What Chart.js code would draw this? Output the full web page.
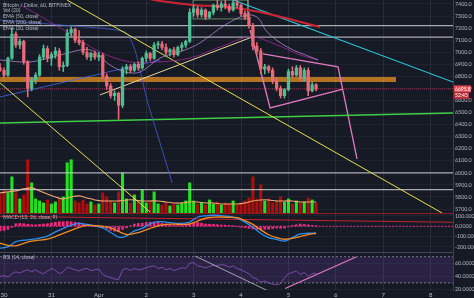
<!DOCTYPE html>
<html>
<head>
<meta charset="utf-8">
<title>BTCUSD 60 BITFINEX</title>
<script src="https://cdn.jsdelivr.net/npm/chart.js@4.4.1/dist/chart.umd.min.js"></script>
<style>
  html, body { margin: 0; padding: 0; background: #161a25; }
  #wrap { position: relative; width: 474px; height: 298px; overflow: hidden; background: #161a25; }
  .pane { position: absolute; left: 0; width: 474px; }
  #pricePane { top: 0; height: 213px; }
  #macdPane { top: 213px; height: 39px; }
  #rsiPane { top: 252px; height: 46px; }
</style>
</head>
<body>
<div id="wrap">
  <div class="pane" id="pricePane"><canvas id="priceChart"></canvas></div>
  <div class="pane" id="macdPane"><canvas id="macdChart"></canvas></div>
  <div class="pane" id="rsiPane"><canvas id="rsiChart"></canvas></div>
</div>
<script>
// time axis: hours from 30 Mar 00:00
const dayHours = [0, 24, 48, 72, 96, 120, 144, 168, 192, 216];
const dayLabels = ['30', '31', 'Apr', '2', '3', '4', '5', '6', '7', '8'];
const priceTicks = [7400, 7300, 7200, 7100, 7000, 6900, 6800, 6700, 6600, 6500, 6400, 6300, 6200, 6100, 6000, 5900, 5800, 5700];
const macdTicks = [100, 0, -100, -200];
const rsiTicks = [60, 40, 20];
const lastPrice = 6695.8;
const countdown = '52:45';

// candles (2h steps)
const hours = [-2, 0, 2, 4, 6, 8, 10, 12, 14, 16,
  18, 20, 22, 24, 26, 28, 30, 32, 34, 36,
  38, 40, 42, 44, 46, 48, 50, 52, 54, 56,
  58, 60, 62, 64, 66, 68, 70, 72, 74, 76,
  78, 80, 82, 84, 86, 88, 90, 92, 94, 96,
  98, 100, 102, 104, 106, 108, 110, 112, 114, 116,
  118, 120, 122, 124, 126, 128, 130, 132, 134, 136,
  138, 140, 142, 144, 146, 148, 150, 152, 154, 156,
  158];
const opens = [6870, 6850, 6810, 6950, 7150, 7060, 7090, 6920, 6700, 6770,
  6810, 6960, 7030, 6950, 6980, 7010, 6880, 6890, 7160, 7190,
  7100, 7080, 7000, 6960, 6990, 6960, 6975, 6800, 6720, 6640,
  6660, 6560, 6860, 6880, 6850, 6900, 6870, 6950, 6990, 6950,
  7060, 7070, 7040, 7000, 7020, 6980, 7040, 7060, 7090, 7330,
  7360, 7310, 7350, 7290, 7330, 7390, 7370, 7400, 7380, 7350,
  7410, 7390, 7320, 7290, 7220, 7050, 7010, 6860, 6880, 6850,
  6760, 6700, 6640, 6690, 6840, 6810, 6870, 6780, 6850, 6680,
  6730];
const highs = [6905, 6870, 6960, 7200, 7170, 7110, 7100, 6930, 6790, 6830,
  6980, 7060, 7050, 7000, 7040, 7030, 6920, 7190, 7210, 7200,
  7180, 7100, 7040, 7000, 7010, 7000, 6990, 6820, 6740, 6680,
  6670, 6880, 6900, 6900, 6910, 6920, 6960, 7010, 7000, 7080,
  7090, 7090, 7070, 7030, 7040, 7050, 7080, 7100, 7360, 7390,
  7380, 7370, 7360, 7340, 7400, 7430, 7420, 7440, 7400, 7430,
  7440, 7400, 7340, 7330, 7240, 7080, 7030, 6900, 6890, 6870,
  6790, 6720, 6700, 6860, 6880, 6890, 6890, 6870, 6870, 6750,
  6740];
const lows = [6840, 6790, 6800, 6940, 7040, 7030, 6900, 6630, 6680, 6740,
  6800, 6940, 6920, 6890, 6950, 6850, 6840, 6880, 7130, 7080,
  7060, 6980, 6940, 6930, 6940, 6930, 6780, 6690, 6620, 6600,
  6445, 6540, 6820, 6830, 6840, 6850, 6860, 6920, 6930, 6940,
  7030, 7020, 6980, 6970, 6960, 6970, 7010, 7040, 7080, 7300,
  7290, 7290, 7270, 7280, 7310, 7350, 7340, 7360, 7330, 7340,
  7370, 7300, 7270, 7200, 7020, 6980, 6820, 6820, 6830, 6740,
  6680, 6620, 6620, 6680, 6790, 6800, 6760, 6760, 6640, 6670,
  6680];
const closes = [6850, 6810, 6950, 7150, 7060, 7090, 6920, 6700, 6770, 6810,
  6960, 7030, 6950, 6980, 7010, 6880, 6890, 7160, 7190, 7100,
  7080, 7000, 6960, 6990, 6960, 6975, 6800, 6720, 6640, 6660,
  6560, 6860, 6880, 6850, 6900, 6870, 6950, 6990, 6950, 7060,
  7070, 7040, 7000, 7020, 6980, 7040, 7060, 7090, 7330, 7360,
  7310, 7350, 7290, 7330, 7390, 7370, 7400, 7380, 7350, 7410,
  7390, 7320, 7290, 7220, 7050, 7010, 6860, 6880, 6850, 6760,
  6700, 6640, 6690, 6840, 6810, 6870, 6780, 6850, 6680, 6730,
  6695.8];
const volumes = [450, 550, 500, 900, 500, 350, 450, 1325, 750, 350,
  300, 250, 325, 225, 275, 350, 400, 1250, 1325, 300,
  250, 325, 225, 275, 200, 225, 500, 400, 300, 250,
  525, 1000, 350, 250, 450, 300, 575, 250, 300, 525,
  225, 200, 250, 175, 225, 200, 250, 300, 750, 300,
  225, 250, 200, 325, 225, 275, 200, 250, 225, 300,
  200, 250, 300, 375, 900, 350, 700, 300, 350, 250,
  300, 400, 275, 350, 225, 300, 250, 275, 375, 325,
  250];
const macdHist = [-45, -40, -30, -10, 25, 28, 25, 20, 15, 14,
  18, 22, 25, 32, 40, 45, 45, 48, 45, 40,
  35, 22, 10, 5, 0, -5, -12, -25, -40, -48,
  -50, -30, -15, 5, 22, 28, 30, 38, 40, 40,
  38, 30, 22, 15, 10, 8, 9, 12, 18, 30,
  35, 30, 22, 20, 18, 15, 12, 10, 8, 2,
  -5, -10, -14, -20, -25, -30, -35, -30, -28, -22,
  -18, -20, -18, -5, 8, 15, 22, 18, 14, 8,
  3];
const rsiValues = [40, 41, 39, 44, 47, 45, 48, 50, 47, 50,
  46, 44, 48, 52, 49, 44, 47, 54, 52, 50,
  48, 51, 52, 49, 50, 51, 43, 40, 38, 36,
  35, 50, 52, 49, 52, 50, 51, 53, 55, 56,
  52, 54, 50, 52, 49, 51, 53, 52, 60, 61,
  56, 55, 53, 55, 57, 56, 58, 57, 54, 56,
  52, 50, 47, 44, 38, 36, 31, 33, 30, 28,
  27, 29, 38, 44, 46, 48, 43, 46, 40, 44,
  45];

// smoother series (4h steps)
const hours4 = [-2, 2, 6, 10, 14, 18, 22, 26, 30, 34, 38, 42, 46, 50, 54, 58, 62, 66, 70, 74,
  78, 82, 86, 90, 94, 98, 102, 106, 110, 114, 118, 122, 126, 130, 134, 138, 142, 146, 150, 154, 158];
const macdLine = [-213, -200, -150, -135, -128, -115, -95, -55, -20, 12, 28, 18, 5, -15, -60, -105, -95, -45, -20, 25,
  45, 40, 30, 28, 40, 90, 102, 107, 103, 95, 78, 40, -10, -70, -110, -128, -145, -110, -75, -68, -65];
const signalLine = [-165, -185, -190, -165, -145, -135, -125, -100, -70, -40, -10, 8, 5, -2, -15, -50, -80, -70, -50, -20,
  5, 18, 20, 19, 22, 50, 78, 88, 90, 86, 84, 55, 18, -35, -82, -110, -126, -118, -100, -82, -68];
const volumeMA = [500, 525, 550, 600, 625, 550, 475, 400, 350, 400, 425, 375, 325, 300, 300, 300, 325, 325, 300, 300,
  300, 275, 250, 250, 275, 275, 250, 250, 225, 225, 225, 250, 300, 325, 325, 300, 300, 300, 275, 275, 275];

// moving averages [hour, price]
const ema20 = [[-2, 6936], [13.2, 6919], [28.4, 6977], [43.5, 7019], [53.7, 6894], [61.3, 6836], [68.9, 6836], [79, 6952],
  [91.6, 7019], [99.2, 7077], [111.9, 7226], [123, 7309], [128.6, 7284], [133.2, 7168], [143.3, 7044], [156.5, 6952], [159, 6936]];
const ema50 = [[8.1, 7392], [14.7, 7334], [31.9, 7168], [48.6, 7002], [63.8, 6920], [79, 6920], [94.2, 6952], [109.4, 7044],
  [124.6, 7126], [137.2, 7068], [149.9, 6977], [159, 6936]];
const ema200 = [[73.9, 7441], [79, 7425], [95.7, 7392], [112.9, 7375], [129.6, 7334], [146.3, 7267], [160, 7209]];

// drawings [hour, price]
const yellowA = [[31.9, 7433], [221.8, 5667]];
const yellowB = [[-2, 6745], [73.9, 5676]];
const beigeLine = [[48.6, 6646], [125.6, 7126]];
const blueRise = [[-2, 6629], [79, 6936]];
const blueFall = [[-2, 7267], [28.4, 7226], [61.3, 7168], [66.3, 7019], [72.4, 6604], [79, 6248], [85.1, 5916]];
const tealLine = [[116, 7433], [227.3, 6753]];
const greenLine = [[-2, 6413], [227.3, 6496]];
const topBox = [[95.7, 7276], [95.7, 7432], [123.5, 7432], [123.5, 7276], [95.7, 7276]];
const pinkLower = [[124.6, 7184], [134.7, 6538], [171.6, 6695]];
const pinkUpper = [[131.1, 6986], [169.1, 6878], [178.7, 6115]];
const greyLevels = [7220, 7125, 6000, 5860];
const orangeZone = { from: -2, to: 198.5, top: 6795, bottom: 6753 };
const macdTrend = [[-2, 97], [227.3, 39]];
const rsiGreyTrend = [[96.7, 71], [133.2, 18.5]];
const rsiPinkTrend = [[142.3, 21.5], [178.2, 69.5]];
const rsiBands = [70, 30];

const X_MIN = -2.03, X_MAX = 227.3;
const GRID = 'rgba(62,68,90,0.42)';
const TXT = '#b6bac4';
const FONT = 'Lato';

const pts = arr => arr.map(p => ({ x: p[0], y: p[1] }));
function seg(points, color, width, extra) {
  return Object.assign({
    type: 'line', data: pts(points), borderColor: color, borderWidth: width,
    pointRadius: 0, fill: false, tension: 0, order: 5
  }, extra || {});
}
function level(value, color, width, extra) {
  return seg([[X_MIN, value], [X_MAX, value]], color, width, extra);
}

function xScale(showLabels) {
  return {
    type: 'linear', min: X_MIN, max: X_MAX, offset: false,
    afterBuildTicks: s => { s.ticks = dayHours.map(v => ({ value: v })); },
    afterFit: s => { s.height = showLabels ? 8 : 0; s.paddingLeft = 0; s.paddingRight = 0; },
    grid: { color: GRID, drawTicks: false, offset: false },
    border: { display: false },
    ticks: showLabels ? {
      color: TXT, font: { size: 6, family: FONT }, padding: 1, maxRotation: 0, autoSkip: false,
      callback: (v, i) => dayLabels[i]
    } : { display: false }
  };
}
function yScale(min, max, ticks, digits) {
  return {
    position: 'right', min: min, max: max,
    afterBuildTicks: s => { s.ticks = ticks.map(v => ({ value: v })); },
    afterFit: s => { s.width = 21; s.paddingTop = 0; s.paddingBottom = 0; },
    grid: { color: 'rgba(62,68,90,0.22)', drawTicks: false },
    border: { color: '#3a3f4f' },
    ticks: { color: TXT, font: { size: 5.3, family: FONT }, padding: 2, callback: v => v.toFixed(digits) }
  };
}

const overlay = {
  id: 'overlay',
  afterDraw(chart, args, o) {
    const ctx = chart.ctx, a = chart.chartArea;
    ctx.save();
    if (o.topLine) {
      ctx.strokeStyle = o.topLine; ctx.lineWidth = 1;
      ctx.beginPath(); ctx.moveTo(0, 0.5); ctx.lineTo(a.right, 0.5); ctx.stroke();
    }
    ctx.font = '5.2px ' + FONT;
    ctx.textBaseline = 'middle';
    ctx.fillStyle = 'rgba(205,208,218,0.85)';
    (o.texts || []).forEach((t, i) => ctx.fillText(t, 3, o.textTop + i * 5.8));
    if (o.priceBox) {
      const y = chart.scales.y.getPixelForValue(o.priceBox.value);
      ctx.fillStyle = '#e5484f';
      ctx.fillRect(a.right + 1, y - 3.5, 17, 7);
      ctx.fillStyle = '#b8323a';
      ctx.fillRect(a.right + 1, y + 3.5, 15, 6.5);
      ctx.fillStyle = '#ffffff';
      ctx.font = '5px ' + FONT;
      ctx.fillText(o.priceBox.value.toFixed(1), a.right + 2, y);
      ctx.fillText(o.priceBox.timer, a.right + 2, y + 6.8);
    }
    ctx.restore();
  }
};

const common = {
  responsive: true, maintainAspectRatio: false, animation: false, events: [],
  layout: { padding: 0, autoPadding: false }
};

// ---- price pane ----
const upCandle = '#4fbf93', downCandle = '#ec6b79';
const candleColors = closes.map((c, i) => c >= opens[i] ? upCandle : downCandle);
const volColors = closes.map((c, i) => c >= opens[i] ? '#22e41e' : '#b10d0d');

new Chart(document.getElementById('priceChart'), {
  type: 'bar',
  data: {
    datasets: [
      { type: 'bar', data: hours.map((h, i) => ({ x: h, y: [opens[i], closes[i]] })), backgroundColor: candleColors,
        barThickness: 2.6, grouped: false, order: 0 },
      { type: 'bar', data: hours.map((h, i) => ({ x: h, y: [lows[i], highs[i]] })), backgroundColor: candleColors,
        barThickness: 0.9, grouped: false, order: 1 },
      seg(ema20, 'rgba(186,140,214,0.75)', 1, { tension: 0.35, order: 3 }),
      seg(ema50, 'rgba(150,40,140,0.85)', 1, { tension: 0.35, order: 3 }),
      seg(ema200, '#cf2235', 2, { tension: 0.3, order: 3 }),
      seg(yellowA, '#e7e04a', 1),
      seg(yellowB, '#e7e04a', 1),
      seg(beigeLine, '#e8d79c', 1),
      seg(blueRise, 'rgba(64,100,220,0.85)', 1),
      seg(blueFall, 'rgba(64,90,200,0.85)', 1, { tension: 0.2 }),
      seg(tealLine, '#2cc3d4', 1.2),
      seg(greenLine, '#3fcf45', 1.3),
      seg(topBox, 'rgba(130,170,120,0.75)', 1),
      seg(pinkLower, '#e07ac0', 1.3),
      seg(pinkUpper, '#e07ac0', 1.3),
      level(lastPrice, 'rgba(236,84,100,0.55)', 1, { borderDash: [1, 1], order: 6 }),
      ...greyLevels.map(v => level(v, 'rgba(205,207,214,0.8)', 1.3, { order: 8 })),
      seg([[orangeZone.from, orangeZone.top], [orangeZone.to, orangeZone.top]], 'rgba(0,0,0,0)', 0, { order: 12 }),
      seg([[orangeZone.from, orangeZone.bottom], [orangeZone.to, orangeZone.bottom]], 'rgba(0,0,0,0)', 0,
        { fill: '-1', backgroundColor: 'rgba(240,150,35,0.72)', order: 12 }),
      { type: 'line', yAxisID: 'yv', data: pts(hours4.map((h, i) => [h, volumeMA[i]])), borderColor: '#f3a86f',
        borderWidth: 1.1, pointRadius: 0, tension: 0.3, order: 14 },
      { type: 'bar', yAxisID: 'yv', data: hours.map((h, i) => ({ x: h, y: volumes[i] })), backgroundColor: volColors,
        barThickness: 2.4, grouped: false, order: 15 }
    ]
  },
  options: Object.assign({}, common, {
    scales: {
      x: xScale(false),
      y: yScale(5667, 7433, priceTicks, 1),
      yv: { display: false, min: 0, max: 5300 }
    },
    plugins: {
      legend: { display: false }, tooltip: { enabled: false },
      overlay: {
        texts: ['Bitcoin / Dollar, 60, BITFINEX', 'Vol (20)', 'EMA (50, close)', 'EMA (200, close)', 'EMA (20, close)'],
        textTop: 5, priceBox: { value: lastPrice, timer: countdown }
      }
    }
  }),
  plugins: [overlay]
});

// ---- MACD pane ----
new Chart(document.getElementById('macdChart'), {
  type: 'bar',
  data: {
    datasets: [
      { type: 'line', data: pts(hours4.map((h, i) => [h, macdLine[i]])), borderColor: '#2b8ff0', borderWidth: 1.3,
        pointRadius: 0, tension: 0.3, order: 1 },
      { type: 'line', data: pts(hours4.map((h, i) => [h, signalLine[i]])), borderColor: '#f38a24', borderWidth: 1.3,
        pointRadius: 0, tension: 0.3, order: 0 },
      seg(macdTrend, '#c42330', 1, { order: 3 }),
      level(0, 'rgba(255,50,150,0.85)', 1, { borderDash: [2, 1.5], order: 4 }),
      { type: 'bar', data: hours.map((h, i) => ({ x: h, y: macdHist[i] })), backgroundColor: '#f5267f',
        barThickness: 2, grouped: false, order: 5 }
    ]
  },
  options: Object.assign({}, common, {
    scales: { x: xScale(false), y: yScale(-250, 129, macdTicks, 4) },
    plugins: {
      legend: { display: false }, tooltip: { enabled: false },
      overlay: { texts: ['MACD (12, 26, close, 9)'], textTop: 4.5, topLine: 'rgba(160,28,36,0.9)' }
    }
  }),
  plugins: [overlay]
});

// ---- RSI pane ----
new Chart(document.getElementById('rsiChart'), {
  type: 'line',
  data: {
    datasets: [
      level(rsiBands[0], 'rgba(190,190,205,0.55)', 1, { borderDash: [2, 2], order: 6 }),
      level(rsiBands[1], 'rgba(190,190,205,0.55)', 1,
        { borderDash: [2, 2], fill: '-1', backgroundColor: 'rgba(120,70,190,0.2)', order: 6 }),
      { type: 'line', data: pts(hours.map((h, i) => [h, rsiValues[i]])), borderColor: 'rgba(150,90,200,0.75)',
        borderWidth: 1, pointRadius: 0, tension: 0, order: 2 },
      seg(rsiGreyTrend, 'rgba(185,185,195,0.85)', 1, { order: 1 }),
      seg(rsiPinkTrend, '#e07ac0', 1.3, { order: 1 })
    ]
  },
  options: Object.assign({}, common, {
    scales: { x: xScale(true), y: yScale(19.2, 77.1, rsiTicks, 4) },
    plugins: {
      legend: { display: false }, tooltip: { enabled: false },
      overlay: { texts: ['RSI (14, close)'], textTop: 5.5, topLine: 'rgba(70,76,96,0.9)' }
    }
  }),
  plugins: [overlay]
});
</script>
</body>
</html>
